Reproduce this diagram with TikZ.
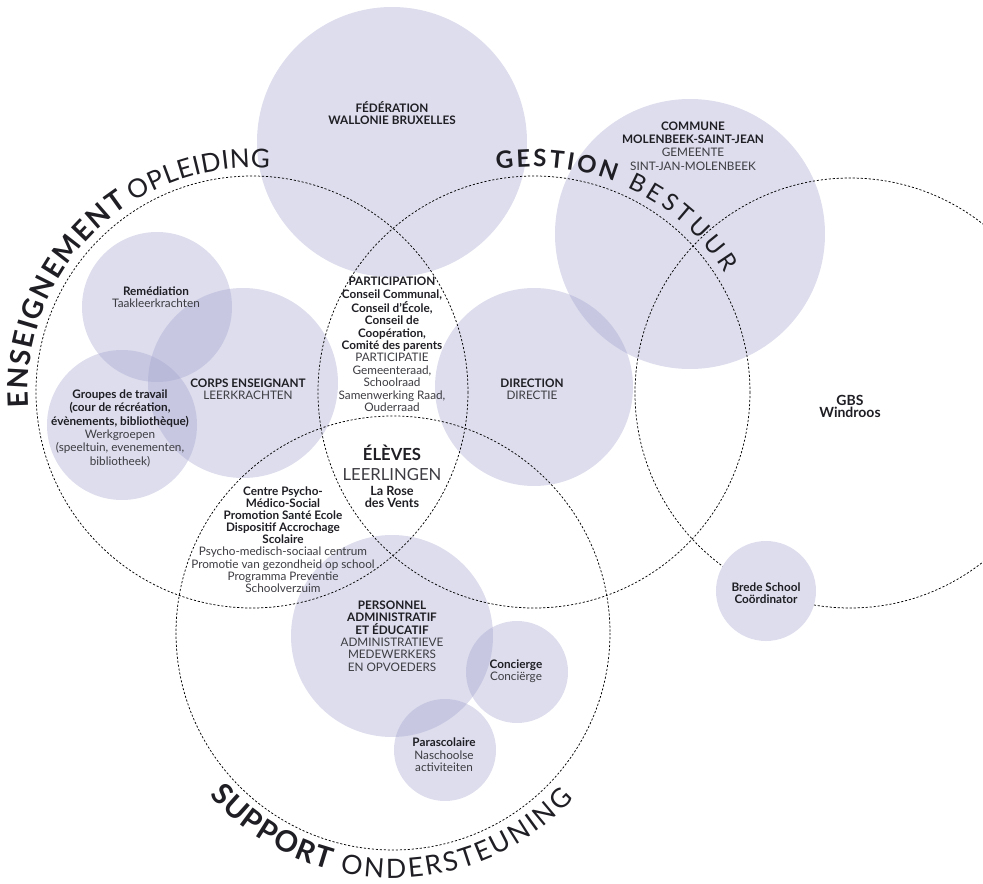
\documentclass[tikz,border=0pt]{standalone}
\usepackage{fontspec}
\setmainfont{Lato}
\usetikzlibrary{decorations.text}
\definecolor{lav}{RGB}{160,160,205}
\definecolor{lavsolid}{RGB}{221,221,237}
\definecolor{txtb}{RGB}{30,30,36}
\definecolor{txtr}{RGB}{60,60,66}
\newcommand{\hb}[1]{\textcolor{txtb}{\textbf{#1}}}
\newcommand{\arcfont}[2]{\fontsize{#1}{#1}\selectfont#2\color{txtb}}
\begin{document}
\begin{tikzpicture}[x=0.75pt,y=-0.75pt,
  bubble/.style={fill=lav, fill opacity=0.36, draw=none},
  zone/.style={draw=black, line width=0.55pt, dash pattern=on 1.6pt off 1.4pt},
  lbl/.style={align=center, inner sep=0pt, text=txtr, font=\fontsize{8.8}{9.3}\selectfont},
  arctext/.style={decorate, decoration={text along path, text align=fit to path, text={#1}}}
]
\useasboundingbox (0,0) rectangle (983,884);

% filled circles
\fill[bubble] (392,142) circle[radius=135];
\fill[bubble] (690,234) circle[radius=135];
\fill[bubble] (157,307) circle[radius=75];
\fill[bubble] (243,383) circle[radius=95];
\fill[bubble] (122,425) circle[radius=75];
\fill[bubble] (534,387) circle[radius=99];
\fill[bubble] (392,636) circle[radius=101];
\fill[bubble] (517,672) circle[radius=51];
\fill[bubble] (445,750) circle[radius=51];

% dashed zones
\draw[zone] (252,392) circle[radius=216];
\draw[zone] (534,392) circle[radius=216];
\draw[zone] (850,393) circle[radius=215];
\draw[zone] (393,633) circle[radius=217];

% coordinator bubble hides the dashed line
\fill[lavsolid] (766,591) circle[radius=50];

% curved titles
\path[arctext={|\arcfont{21}{\bfseries}|ENSEIGNEMENT}] ([shift={(252,392)}]-184:224) arc[start angle=-184, end angle=-123.5, radius=224];
\path[arctext={|\arcfont{19.5}{}|OPLEIDING}] ([shift={(252,392)}]-121.8:224) arc[start angle=-121.8, end angle=-85.5, radius=224];
\path[arctext={|\arcfont{18}{\bfseries}|GESTION}] ([shift={(534,392)}]-99.5:225) arc[start angle=-99.5, end angle=-69, radius=225];
\path[arctext={|\arcfont{18}{}|BESTUUR}] ([shift={(534,392)}]-65.5:225) arc[start angle=-65.5, end angle=-32, radius=225];
\path[arctext={|\arcfont{22}{\bfseries}|SUPPORT}] ([shift={(393,633)}]-221.5:245) arc[start angle=-221.5, end angle=-255, radius=245];
\path[arctext={|\arcfont{20}{}|ONDERSTEUNING}] ([shift={(393,633)}]-257.5:245) arc[start angle=-257.5, end angle=-317.5, radius=245];

% labels
\node[lbl] (fed) at (392,113) {\hb{FÉDÉRATION}\\\hb{WALLONIE BRUXELLES}};
\node[lbl, font=\fontsize{8.8}{10}\selectfont] (com) at (693,146) {\hb{COMMUNE}\\\hb{MOLENBEEK-SAINT-JEAN}\\GEMEENTE\\SINT-JAN-MOLENBEEK};
\node[lbl] (rem) at (156,297) {\hb{Remédiation}\\Taakleerkrachten};
\node[lbl] (corps) at (248,389.5) {\hb{CORPS ENSEIGNANT}\\LEERKRACHTEN};
\node[lbl, font=\fontsize{8.8}{10}\selectfont] (grp) at (120,428.5) {\hb{Groupes de travail}\\\hb{(cour de récréation,}\\\hb{évènements, bibliothèque)}\\Werkgroepen\\(speeltuin, evenementen,\\bibliotheek)};
\node[lbl] (part) at (392,344.5) {\hb{PARTICIPATION}\\\hb{Conseil Communal,}\\\hb{Conseil d’École,}\\\hb{Conseil de}\\\hb{Coopération,}\\\hb{Comité des parents}\\PARTICIPATIE\\Gemeenteraad,\\Schoolraad\\Samenwerking Raad,\\Ouderraad};
\node[lbl] (dir) at (532,389) {\hb{DIRECTION}\\DIRECTIE};
\node[lbl, font=\fontsize{12.5}{15}\selectfont] (elv) at (392,463) {\hb{ÉLÈVES}\\LEERLINGEN};
\node[lbl, font=\fontsize{9.5}{9}\selectfont] (rose) at (392,497) {\hb{La Rose}\\\hb{des Vents}};
\node[lbl, font=\fontsize{8.8}{9.1}\selectfont] (cpms) at (283,539.5) {\hb{Centre Psycho-}\\\hb{Médico-Social}\\\hb{Promotion Santé Ecole}\\\hb{Dispositif Accrochage}\\\hb{Scolaire}\\Psycho-medisch-sociaal centrum\\Promotie van gezondheid op school\\Programma Preventie\\Schoolverzuim};
\node[lbl] (pers) at (392,636) {\hb{PERSONNEL}\\\hb{ADMINISTRATIF}\\\hb{ET ÉDUCATIF}\\ADMINISTRATIEVE\\MEDEWERKERS\\EN OPVOEDERS};
\node[lbl] (conc) at (516,671) {\hb{Concierge}\\Conciërge};
\node[lbl] (para) at (444,755) {\hb{Parascolaire}\\Naschoolse\\activiteiten};
\node[lbl, font=\fontsize{10.5}{9.5}\selectfont] (gbs) at (850,406.5) {\hb{GBS}\\\hb{Windroos}};
\node[lbl] (brede) at (766,593) {\hb{Brede School}\\\hb{Coördinator}};
\end{tikzpicture}
\end{document}
